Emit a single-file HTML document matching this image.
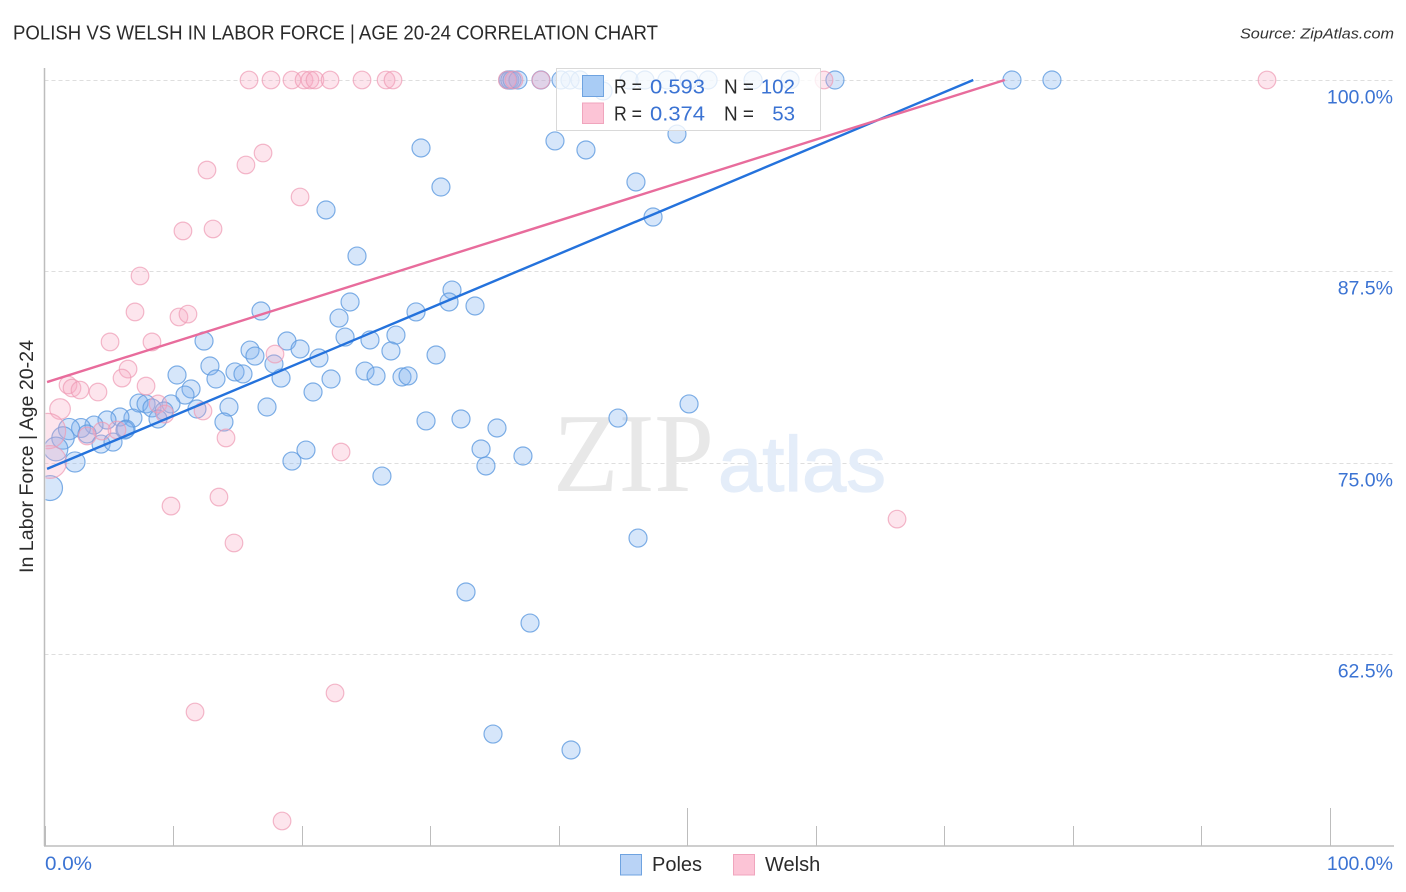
<!DOCTYPE html>
<html lang="en">
<head>
<meta charset="utf-8">
<title>Polish vs Welsh in Labor Force | Age 20-24 Correlation Chart</title>
<style>
html,body{margin:0;padding:0;background:#fff;width:1406px;height:892px;overflow:hidden}
svg{display:block;font-family:"Liberation Sans",sans-serif}
</style>
</head>
<body>
<svg id="chart" xmlns="http://www.w3.org/2000/svg" width="1406" height="892" viewBox="0 0 1406 892">
  <defs>
    <clipPath id="plot-clip"><rect x="45.5" y="60" width="1350" height="786"/></clipPath>
  </defs>
  <text x="13" y="39.5" font-size="20" fill="#2b2b2b" textLength="645" lengthAdjust="spacingAndGlyphs">POLISH VS WELSH IN LABOR FORCE | AGE 20-24 CORRELATION CHART</text>
  <text x="1394" y="38.5" font-size="15" font-style="italic" fill="#333" text-anchor="end" textLength="154" lengthAdjust="spacingAndGlyphs">Source: ZipAtlas.com</text>
  <g id="grid"></g>
  <g>
    <text x="553" y="491" font-family="'Liberation Serif',serif" font-size="112" fill="#e8e8e8" textLength="161" lengthAdjust="spacingAndGlyphs">ZIP</text>
    <text x="718" y="491" font-size="78" fill="#e4edf9" stroke="#e4edf9" stroke-width="1.2" textLength="168" lengthAdjust="spacingAndGlyphs">atlas</text>
  </g>
  <g id="points-poles" clip-path="url(#plot-clip)"></g>
  <g id="points-welsh" clip-path="url(#plot-clip)"></g>
  <g id="trends"></g>
  <g id="axes"></g>
  <text transform="translate(33,456.5) rotate(-90)" font-size="19" fill="#2b2b2b" text-anchor="middle" textLength="233" lengthAdjust="spacingAndGlyphs">In Labor Force | Age 20-24</text>
  <g>
    <rect x="556.5" y="68.5" width="264" height="62" fill="#fff" fill-opacity="0.78" stroke="#d9d9d9"/>
    <rect x="582.5" y="75.5" width="21" height="21" fill="#a9ccf5" stroke="#6fa3e0"/>
    <rect x="582.5" y="103" width="21" height="20.5" fill="#fcc4d6" stroke="#f0a5bd"/>
    <text x="614" y="93.5" font-size="20" fill="#2b2b2b" textLength="28" lengthAdjust="spacingAndGlyphs">R =</text>
    <text x="650" y="93.5" font-size="20.5" fill="#3b73d3" textLength="55" lengthAdjust="spacingAndGlyphs">0.593</text>
    <text x="724" y="93.5" font-size="20" fill="#2b2b2b" textLength="30" lengthAdjust="spacingAndGlyphs">N =</text>
    <text x="795" y="93.5" font-size="20.5" fill="#3b73d3" text-anchor="end">102</text>
    <text x="614" y="120.5" font-size="20" fill="#2b2b2b" textLength="28" lengthAdjust="spacingAndGlyphs">R =</text>
    <text x="650" y="120.5" font-size="20.5" fill="#3b73d3" textLength="55" lengthAdjust="spacingAndGlyphs">0.374</text>
    <text x="724" y="120.5" font-size="20" fill="#2b2b2b" textLength="30" lengthAdjust="spacingAndGlyphs">N =</text>
    <text x="795" y="120.5" font-size="20.5" fill="#3b73d3" text-anchor="end">53</text>
  </g>
  <g>
    <rect x="620.5" y="854.5" width="21" height="20.5" fill="#b9d3f6" stroke="#6fa3e0"/>
    <text x="652" y="871" font-size="20" fill="#2b2b2b">Poles</text>
    <rect x="733.5" y="854.5" width="21" height="20.5" fill="#fcc4d6" stroke="#f0a5bd"/>
    <text x="765" y="871" font-size="20" fill="#2b2b2b">Welsh</text>
  </g>
</svg>
<script>
const yTickValues = [100, 87.5, 75, 62.5];
const yTickLabels = ['100.0%', '87.5%', '75.0%', '62.5%'];
const xTickValues = [0, 10, 20, 30, 40, 50, 60, 70, 80, 90, 100];
const xEndLabels = ['0.0%', '100.0%'];

const polesX = [36.06,36.2,36.37,36.83,38.62,40.18,40.88,41.66,45.47,46.71,48.42,50.14,51.62,55.12,58.0,61.49,75.26,78.37,43.45,
39.71,42.12,29.29,30.84,49.2,46.01,47.34,21.9,24.31,31.7,31.47,33.49,23.77,28.9,22.91,16.84,12.41,23.38,25.32,27.34,18.86,19.88,15.99,16.37,21.35,26.95,30.46,17.85,12.87,10.31,14.82,15.44,13.34,18.4,22.29,24.93,25.79,27.81,28.28,20.89,11.4,10.93,9.84,7.35,7.9,8.36,9.3,11.86,14.35,17.31,13.96,8.83,6.88,5.87,4.86,3.85,2.84,1.91,6.34,6.26,3.31,4.4,5.33,1.44,0.89,2.37,0.43,29.68,32.4,35.2,44.61,50.14,33.96,34.34,37.22,20.34,19.25,26.25,46.17,32.79,37.77,34.89,40.96];
const polesY = [100,100,100,100,100,100,100,100,100,100,100,100,100,100,100,100,100,100,99.28,
96.02,95.43,95.56,93.01,96.47,93.34,91.05,91.51,88.5,86.28,85.5,85.24,85.5,84.85,84.45,84.91,82.95,83.21,83.02,83.34,82.95,82.43,82.36,81.97,81.84,82.3,82.04,81.45,81.32,80.73,80.93,80.8,80.47,80.53,80.47,80.99,80.67,80.6,80.67,79.62,79.82,79.42,78.84,78.9,78.84,78.58,78.38,78.51,78.64,78.64,77.66,77.86,77.92,77.99,77.79,77.46,77.27,77.2,77.2,77.14,76.88,76.22,76.35,76.62,75.9,75.05,73.35,77.73,77.86,77.27,77.92,78.84,75.9,74.79,75.44,75.83,75.11,74.13,70.08,66.56,64.53,57.28,56.24];

const welshX = [15.91,17.62,19.25,20.19,20.65,21.04,22.21,24.7,26.57,27.11,36.0,36.52,38.62,60.64,95.1,
17.0,15.67,12.64,19.88,10.77,13.11,7.43,7.04,10.46,11.16,5.1,8.36,17.93,6.5,6.03,1.83,2.14,2.76,7.9,4.16,1.21,8.83,9.37,12.33,5.64,4.47,3.31,0.27,0.43,14.12,23.07,13.57,9.84,14.74,66.32,22.6,11.71,18.48];
const welshY = [100,100,100,100,100,100,100,100,100,100,100,100,100,100,100,
95.23,94.45,94.12,92.36,90.14,90.27,87.2,84.85,84.52,84.71,82.89,82.89,82.1,81.12,80.53,80.08,79.88,79.75,80.01,79.62,78.51,78.84,78.18,78.38,77.14,77.07,76.75,77.07,75.05,76.62,75.7,72.76,72.17,69.76,71.32,59.96,58.72,51.6];

const polesTrendX = [0.2, 72.25];
const polesTrendY = [74.6, 100];
const welshTrendX = [0.2, 74.7];
const welshTrendY = [80.27, 100];

const NS = 'http://www.w3.org/2000/svg';
const xScale = v => 44.5 + v * 12.855;
const yScale = v => 80 + (100 - v) * 15.31;
const polesRadius = v => 9 + 4 * Math.max(0, 1 - v / 3.2);
const welshRadius = v => 8.8 + 11 * Math.max(0, 1 - v / 1.4);

function make(parent, tag, attrs, text) {
  const el = document.createElementNS(NS, tag);
  for (const k in attrs) el.setAttribute(k, attrs[k]);
  if (text !== undefined) el.textContent = text;
  parent.appendChild(el);
  return el;
}

const grid = document.getElementById('grid');
const axes = document.getElementById('axes');
const polesG = document.getElementById('points-poles');
const welshG = document.getElementById('points-welsh');
const trends = document.getElementById('trends');

yTickValues.forEach((v, i) => {
  const y = Math.round(yScale(v)) + 0.5;
  const line = make(grid, 'line', {x1: 44.5, x2: 1394, y1: y, y2: y, stroke: '#dedede', 'stroke-width': 1, 'stroke-dasharray': '4 3'});
  
  
  const label = make(axes, 'text', {x: 1393, y: y + 23, 'font-size': 19.5, fill: '#3b73d3', 'text-anchor': 'end'}, yTickLabels[i]);
  
  
});

const yAxis = make(axes, 'line', {x1: 44.5, x2: 44.5, y1: 68, y2: 846, stroke: '#bdbdbd', 'stroke-width': 1.5});


const xAxis = make(axes, 'line', {x1: 44, x2: 1394, y1: 846, y2: 846, stroke: '#bdbdbd', 'stroke-width': 1.5});



xTickValues.forEach(v => {
  const x = Math.round(xScale(v)) + 0.5;
  const major = v === 50 || v === 100;
  const tick = make(axes, 'line', {x1: x, x2: x, y1: major ? 808 : 826, y2: 846, stroke: '#bdbdbd', 'stroke-width': 1});
  
  
});

const xLabelLeft = make(axes, 'text', {x: 45, y: 870, 'font-size': 19.5, fill: '#3b73d3', textLength: 47, lengthAdjust: 'spacingAndGlyphs'}, xEndLabels[0]);


const xLabelRight = make(axes, 'text', {x: 1393, y: 870, 'font-size': 19.5, fill: '#3b73d3', 'text-anchor': 'end'}, xEndLabels[1]);



polesX.forEach((v, i) => {
  const c = make(polesG, 'circle', {cx: xScale(v), cy: yScale(polesY[i]), r: polesRadius(v), fill: '#7fb0ee', 'fill-opacity': 0.32, stroke: '#5f9be0', 'stroke-opacity': 0.8, 'stroke-width': 1.2});
  
  
});
welshX.forEach((v, i) => {
  const c = make(welshG, 'circle', {cx: xScale(v), cy: yScale(welshY[i]), r: welshRadius(v), fill: '#f9a8c2', 'fill-opacity': 0.3, stroke: '#ee9ab4', 'stroke-opacity': 0.7, 'stroke-width': 1.2});
  
  
});

const poleLine = make(trends, 'line', {x1: xScale(polesTrendX[0]), y1: yScale(polesTrendY[0]), x2: xScale(polesTrendX[1]), y2: yScale(polesTrendY[1]), stroke: '#2472dc', 'stroke-width': 2.4});


const welshLine = make(trends, 'line', {x1: xScale(welshTrendX[0]), y1: yScale(welshTrendY[0]), x2: xScale(welshTrendX[1]), y2: yScale(welshTrendY[1]), stroke: '#e86c9c', 'stroke-width': 2.4});


</script>
</body>
</html>
